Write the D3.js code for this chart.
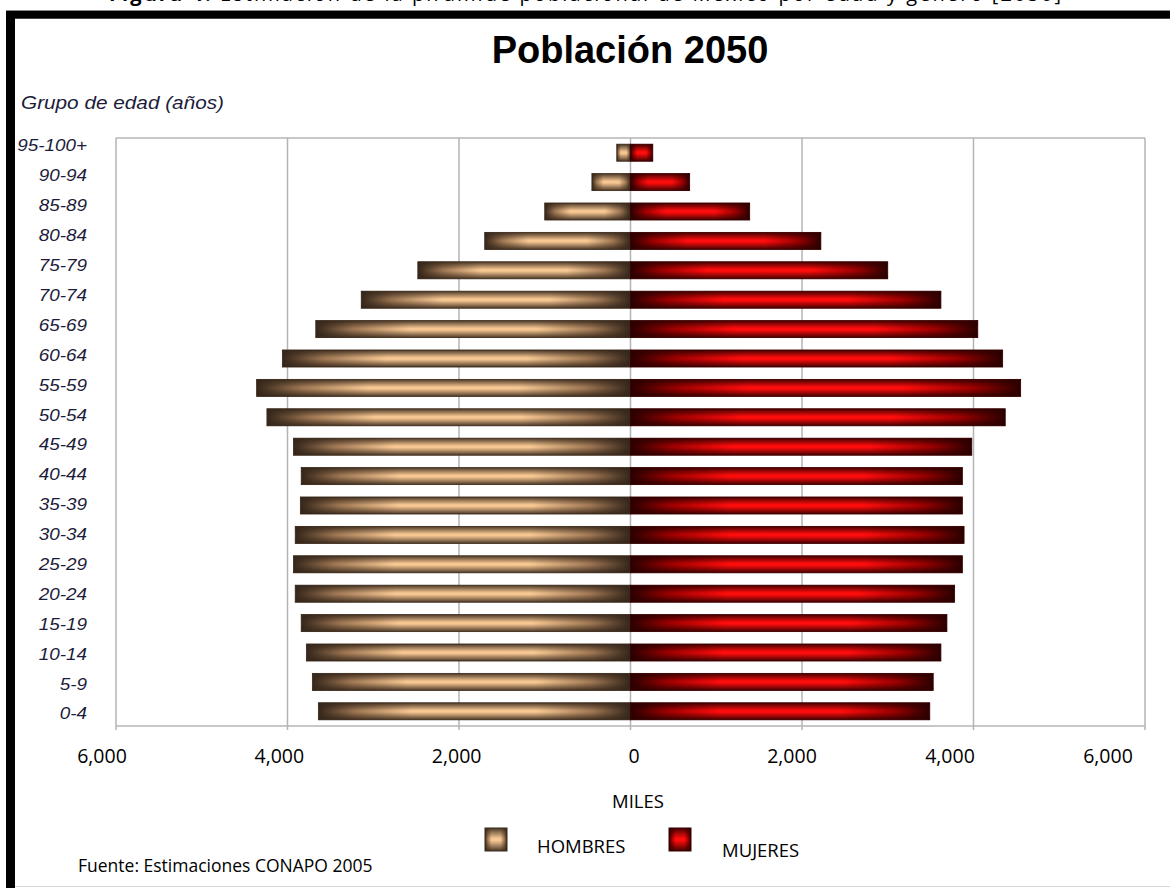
<!DOCTYPE html>
<html>
<head>
<meta charset="utf-8">
<script src="https://cdn.jsdelivr.net/npm/d3@7"></script>
<style>
  html, body { margin: 0; padding: 0; background: #fff; }
  svg { display: block; }
</style>
</head>
<body>
<svg id="chart" width="1170" height="888"></svg>
<script>
// Grupos de edad, de mayor a menor (arriba a abajo)
const grupos = ["95-100+", "90-94", "85-89", "80-84", "75-79", "70-74", "65-69", "60-64",
  "55-59", "50-54", "45-49", "40-44", "35-39", "30-34", "25-29", "20-24",
  "15-19", "10-14", "5-9", "0-4"];

// Población estimada 2050, miles de personas
const hombres = [160, 450, 1000, 1700, 2480, 3140, 3670, 4060, 4360, 4240,
  3930, 3840, 3850, 3910, 3930, 3910, 3840, 3780, 3710, 3640];
const mujeres = [260, 690, 1390, 2220, 3000, 3620, 4050, 4340, 4550, 4370,
  3980, 3870, 3870, 3890, 3870, 3780, 3690, 3620, 3530, 3490];

// Marcas del eje horizontal
const ticks = [-6000, -4000, -2000, 0, 2000, 4000, 6000];

const svg = d3.select("#chart");
const defs = svg.append("defs");

// Degradado rectangular: horizontal (claro al centro) + sombra vertical en bordes
function gradients(id, dark, mid, light) {
  const h = defs.append("linearGradient").attr("id", id + "-h")
    .attr("x1", 0).attr("x2", 1).attr("y1", 0).attr("y2", 0);
  [[0, dark], [0.12, mid], [0.3, light], [0.7, light], [0.88, mid], [1, dark]]
    .forEach(([o, c]) => h.append("stop").attr("offset", o).attr("stop-color", c));
  const v = defs.append("linearGradient").attr("id", id + "-v")
    .attr("x1", 0).attr("x2", 0).attr("y1", 0).attr("y2", 1);
  [[0, 0.9], [0.22, 0.45], [0.45, 0], [0.55, 0], [0.78, 0.45], [1, 0.9]]
    .forEach(([o, a]) => v.append("stop").attr("offset", o)
      .attr("stop-color", dark).attr("stop-opacity", a));
}
gradients("hom", "#35261a", "#9c7552", "#f7c792");
gradients("muj", "#2a0000", "#9a0000", "#ff0c0c");

// Marco de la figura
svg.append("rect").attr("x", 6).attr("y", 10).attr("width", 1164).attr("height", 9).attr("fill", "#8a8a8a");
svg.append("rect").attr("x", 6).attr("y", 11).attr("width", 1164).attr("height", 7.5).attr("fill", "#000");
svg.append("rect").attr("x", 6).attr("y", 11).attr("width", 9).attr("height", 877).attr("fill", "#000");
svg.append("line").attr("x1", 15).attr("x2", 1170).attr("y1", 886.5).attr("y2", 886.5)
  .attr("stroke", "#d8d8d8").attr("stroke-width", 1);

// Pie de la figura (recortado por el borde superior)
const cap = svg.append("text").attr("x", 109).attr("y", 1)
  .attr("font-family", "'Open Sans', sans-serif").attr("font-size", 20).attr("fill", "#000")
  .attr("textLength", 952).attr("lengthAdjust", "spacing");
cap.append("tspan").attr("font-weight", "bold").text("Figura 4.");
cap.append("tspan").text(" Estimación de la pirámide poblacional de México por edad y género [2050]");

// Título
svg.append("text").attr("x", 630).attr("y", 63).attr("text-anchor", "middle")
  .attr("font-family", "'Liberation Sans', Arial, sans-serif").attr("font-weight", "bold")
  .attr("font-size", 38).attr("fill", "#000").text("Población 2050");

svg.append("text").attr("x", 21).attr("y", 109)
  .attr("font-family", "'Liberation Sans', Arial, sans-serif").attr("font-style", "italic")
  .attr("font-size", 18).attr("fill", "#1c1c3a")
  .attr("textLength", 203).attr("lengthAdjust", "spacingAndGlyphs")
  .text("Grupo de edad (años)");

// Escalas
const plotL = 116, plotR = 1145, plotT = 138, plotB = 726;
const x = d3.scaleLinear().domain([-6000, 6000]).range([plotL, plotR]);
const y = d3.scaleBand().domain(grupos).range([plotT, plotB]).paddingInner(0.42).paddingOuter(0.21);
const yLab = d3.scalePoint().domain(grupos).range([146, 714]);
const xLab = d3.scaleLinear().domain([-6000, 0, 6000]).range([102, 634, 1108]);

// Rejilla y marco del área de trazado
const grid = svg.append("g");
grid.selectAll("line.v").data(ticks).join("line").attr("class", "v")
  .attr("x1", d => x(d)).attr("x2", d => x(d))
  .attr("y1", plotT).attr("y2", plotB + 4)
  .attr("stroke", "#b4b4b4").attr("stroke-width", 1.5);
grid.append("line").attr("x1", plotL).attr("x2", plotR).attr("y1", plotT).attr("y2", plotT)
  .attr("stroke", "#b4b4b4").attr("stroke-width", 1.5);
grid.append("line").attr("x1", plotL).attr("x2", plotR).attr("y1", plotB).attr("y2", plotB)
  .attr("stroke", "#b4b4b4").attr("stroke-width", 1.5);

// Barras
function bars(values, cls, id, toLeft, stroke) {
  const g = svg.append("g").attr("class", cls);
  const data = grupos.map((gr, i) => ({ gr, v: values[i] }));
  const rx = d => toLeft ? x(-d.v) : x(0);
  const rw = d => toLeft ? x(0) - x(-d.v) : x(d.v) - x(0);
  g.selectAll("rect.base").data(data).join("rect").attr("class", "base")
    .attr("x", rx).attr("y", d => y(d.gr)).attr("width", rw).attr("height", y.bandwidth())
    .attr("fill", `url(#${id}-h)`);
  g.selectAll("rect.shade").data(data).join("rect").attr("class", "shade")
    .attr("x", rx).attr("y", d => y(d.gr)).attr("width", rw).attr("height", y.bandwidth())
    .attr("fill", `url(#${id}-v)`).attr("stroke", stroke).attr("stroke-width", 0.8);
}
bars(hombres, "hombres", "hom", true, "#3a2a1c");
bars(mujeres, "mujeres", "muj", false, "#3a0000");

// Etiquetas de grupo de edad
svg.append("g").selectAll("text").data(grupos).join("text")
  .attr("transform", d => `translate(87,${yLab(d)}) scale(1.18,1)`)
  .attr("text-anchor", "end").attr("dominant-baseline", "central")
  .attr("font-family", "'Liberation Sans', Arial, sans-serif").attr("font-style", "italic")
  .attr("font-size", 16).attr("fill", "#1c1c3a")
  .text(d => d);

// Etiquetas del eje horizontal
const fmt = d3.format(",");
svg.append("g").selectAll("text").data(ticks).join("text")
  .attr("x", d => xLab(d)).attr("y", 763).attr("text-anchor", "middle")
  .attr("font-family", "'Open Sans', sans-serif").attr("font-size", 19.5).attr("fill", "#000")
  .text(d => fmt(Math.abs(d)));

svg.append("text").attr("x", 638).attr("y", 808).attr("text-anchor", "middle")
  .attr("font-family", "'Open Sans', sans-serif").attr("font-size", 18.5).attr("fill", "#000")
  .text("MILES");

// Leyenda
const legend = [
  { label: "HOMBRES", id: "hom", stroke: "#3a2a1c", sx: 485, tx: 537, ty: 853 },
  { label: "MUJERES", id: "muj", stroke: "#3a0000", sx: 669, tx: 722, ty: 857 }
];
const lg = svg.append("g").selectAll("g").data(legend).join("g");
lg.append("rect").attr("x", d => d.sx).attr("y", 828).attr("width", 22).attr("height", 23)
  .attr("fill", d => `url(#${d.id}-h)`);
lg.append("rect").attr("x", d => d.sx).attr("y", 828).attr("width", 22).attr("height", 23)
  .attr("fill", d => `url(#${d.id}-v)`).attr("stroke", d => d.stroke).attr("stroke-width", 1);
lg.append("text").attr("x", d => d.tx).attr("y", d => d.ty)
  .attr("font-family", "'Open Sans', sans-serif").attr("font-size", 18.5).attr("fill", "#000")
  .text(d => d.label);

// Fuente
svg.append("text").attr("x", 78).attr("y", 872)
  .attr("font-family", "'Open Sans', sans-serif").attr("font-size", 17.5).attr("fill", "#000")
  .text("Fuente: Estimaciones CONAPO 2005");
</script>
</body>
</html>
